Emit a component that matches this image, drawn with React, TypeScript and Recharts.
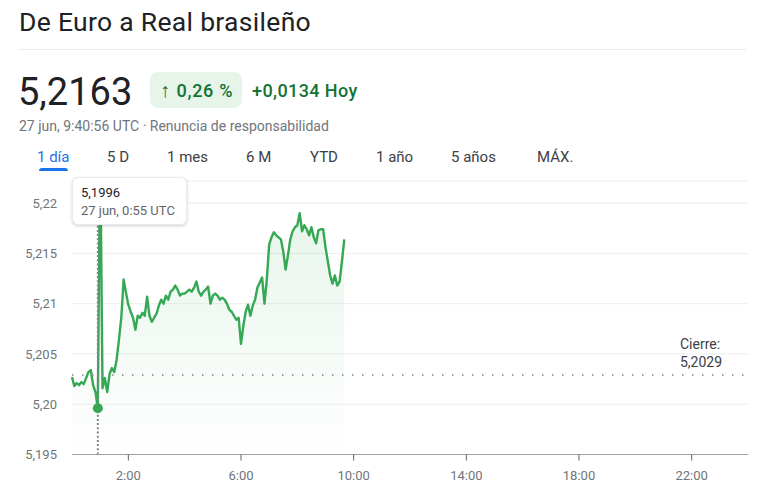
import {
  ComposedChart,
  Area,
  XAxis,
  YAxis,
  CartesianGrid,
  ReferenceLine,
  ReferenceDot,
} from "recharts";

// EUR/BRL, 27 jun, 5-minute samples from 0:00 UTC to 9:40 UTC
const rates = [
  5.2027, 5.2018, 5.2021, 5.2019, 5.2022, 5.202, 5.2026, 5.2032, 5.2034, 5.2019,
  5.2012, 5.1996, 5.226, 5.2016, 5.2026, 5.2012, 5.203, 5.2036, 5.2032, 5.2044,
  5.2064, 5.2086, 5.2124, 5.2111, 5.2099, 5.2092, 5.2086, 5.2074, 5.2088, 5.2086,
  5.2091, 5.2088, 5.2107, 5.2088, 5.2082, 5.2086, 5.209, 5.2098, 5.2104, 5.21,
  5.2108, 5.2104, 5.2112, 5.2114, 5.2118, 5.2114, 5.2108, 5.211, 5.211, 5.2112,
  5.2114, 5.2112, 5.2116, 5.2122, 5.2112, 5.2108, 5.2112, 5.2114, 5.2117, 5.21,
  5.2108, 5.211, 5.2108, 5.2104, 5.2106, 5.2104, 5.21, 5.2094, 5.2092, 5.2088,
  5.2084, 5.2086, 5.206, 5.2078, 5.2092, 5.2099, 5.2088, 5.2098, 5.2104, 5.2116,
  5.2121, 5.2126, 5.21, 5.2124, 5.2159, 5.2166, 5.2171, 5.2168, 5.2166, 5.2164,
  5.2152, 5.2134, 5.2148, 5.2164, 5.2172, 5.2176, 5.2178, 5.219, 5.2172, 5.2178,
  5.2174, 5.2168, 5.2176, 5.2166, 5.216, 5.2173, 5.2174, 5.2174, 5.2156, 5.2142,
  5.2128, 5.212, 5.2128, 5.2118, 5.2122, 5.2142, 5.2164,
];

const yTicks = [5.195, 5.2, 5.205, 5.21, 5.215, 5.22];
const yTickLabels = ["5,195", "5,20", "5,205", "5,21", "5,215", "5,22"];
const xTicks = [120, 360, 600, 840, 1080, 1320];
const xTickLabels = ["2:00", "6:00", "10:00", "14:00", "18:00", "22:00"];
const tabs = ["1 día", "5 D", "1 mes", "6 M", "YTD", "1 año", "5 años", "MÁX."];
const tabLeft = [37, 107, 167, 246, 310, 376, 451, 537];

const closeValue = 5.2029;
const hoverIndex = 11;
const hoverLabel = "27 jun, 0:55 UTC";

const data = rates.map((v, i) => ({ t: i * 5, v }));

const GREEN = "#34a853";
const fmt = (n: number) => n.toFixed(4).replace(".", ",");

function CloseLabel(props: any) {
  const { viewBox } = props;
  return (
    <text x={680} y={viewBox.y - 25.7} fill="#3c4043" fontSize={14}>
      <tspan x={680}>Cierre:</tspan>
      <tspan x={680} dy={17.7}>
        {fmt(closeValue)}
      </tspan>
    </text>
  );
}

export default function App() {
  const font = "Roboto, Arial, sans-serif";
  const hover = data[hoverIndex];
  return (
    <div
      style={{
        position: "absolute",
        left: 0,
        top: 0,
        width: 773,
        height: 499,
        background: "#fff",
        fontFamily: font,
        overflow: "hidden",
      }}
    >
      <div
        style={{
          position: "absolute",
          left: 19,
          top: 8.6,
          fontSize: 26.5,
          lineHeight: "26.5px",
          letterSpacing: 0.3,
          color: "#202124",
        }}
      >
        De Euro a Real brasileño
      </div>
      <div style={{ position: "absolute", left: 19, top: 49, width: 727, height: 1, background: "#e8eaed" }} />

      <div style={{ position: "absolute", left: 18, top: 73, fontSize: 38, lineHeight: "38px", color: "#202124" }}>
        5,2163
      </div>
      <div
        style={{
          position: "absolute",
          left: 150,
          top: 72,
          width: 92,
          height: 36,
          borderRadius: 8,
          background: "#e6f4ea",
        }}
      />
      <div
        style={{
          position: "absolute",
          left: 160,
          top: 80,
          fontSize: 20,
          lineHeight: "20px",
          color: "#137333",
        }}
      >
        ↑
      </div>
      <div
        style={{
          position: "absolute",
          left: 176.5,
          top: 81.6,
          fontSize: 18,
          lineHeight: "18px",
          letterSpacing: 0.7,
          color: "#137333",
          fontWeight: 500,
        }}
      >
        0,26 %
      </div>
      <div
        style={{
          position: "absolute",
          left: 252,
          top: 81.6,
          fontSize: 18,
          lineHeight: "18px",
          letterSpacing: 0.4,
          color: "#137333",
          fontWeight: 500,
        }}
      >
        +0,0134 Hoy
      </div>
      <div style={{ position: "absolute", left: 19, top: 119, fontSize: 14, lineHeight: "14px", color: "#70757a" }}>
        27 jun, 9:40:56 UTC · Renuncia de responsabilidad
      </div>

      {tabs.map((tab, i) => (
        <div
          key={tab}
          style={{
            position: "absolute",
            left: tabLeft[i],
            top: 149.7,
            fontSize: 15,
            lineHeight: "15px",
            color: i === 0 ? "#1a73e8" : "#3c4043",
          }}
        >
          {tab}
        </div>
      ))}
      <div
        style={{
          position: "absolute",
          left: 39,
          top: 167.5,
          width: 29,
          height: 3,
          borderRadius: "3px 3px 0 0",
          background: "#1a73e8",
        }}
      />

      <div style={{ position: "absolute", left: 0, top: 0 }}>
        <ComposedChart
          width={773}
          height={499}
          data={data}
          margin={{ top: 181, right: 25, bottom: 14.5, left: 0 }}
        >
          <defs>
            <linearGradient id="fillGreen" gradientUnits="userSpaceOnUse" x1="0" y1="181" x2="0" y2="454">
              <stop offset="0%" stopColor={GREEN} stopOpacity={0.22} />
              <stop offset="100%" stopColor={GREEN} stopOpacity={0} />
            </linearGradient>
          </defs>
          <CartesianGrid vertical={false} stroke="#eeeeee" />
          <XAxis
            dataKey="t"
            type="number"
            domain={[0, 1440]}
            ticks={xTicks}
            tickFormatter={(v) => xTickLabels[xTicks.indexOf(v)]}
            height={30}
            tickSize={6}
            tickMargin={10}
            axisLine={{ stroke: "#9aa0a6" }}
            tickLine={{ stroke: "#5f6368" }}
            tick={{ fontSize: 13, fill: "#70757a", fontFamily: font }}
          />
          <YAxis
            type="number"
            domain={[5.195, 5.2222]}
            allowDataOverflow
            ticks={yTicks}
            tickFormatter={(v) => {
              const k = yTicks.findIndex((y) => Math.abs(y - v) < 1e-6);
              return k >= 0 ? yTickLabels[k] : "";
            }}
            width={72}
            axisLine={false}
            tickLine={false}
            tickMargin={9}
            tick={{ fontSize: 13, fill: "#70757a", fontFamily: font }}
          />
          <ReferenceLine
            y={closeValue}
            stroke="#80868b"
            strokeWidth={1.5}
            strokeDasharray="1.5 8.5"
            label={<CloseLabel />}
          />
          <ReferenceLine x={hover.t} stroke="#80868b" strokeWidth={2} strokeDasharray="2 2.2" />
          <Area
            type="linear"
            dataKey="v"
            stroke={GREEN}
            strokeWidth={2.4}
            strokeLinejoin="round"
            fill="url(#fillGreen)"
            dot={false}
            activeDot={false}
            isAnimationActive={false}
          />
          <ReferenceDot x={hover.t} y={hover.v} r={5} fill={GREEN} stroke="none" />
        </ComposedChart>
      </div>

      <div
        style={{
          position: "absolute",
          left: 72,
          top: 176.5,
          width: 115,
          height: 48,
          boxSizing: "border-box",
          background: "#fff",
          borderRadius: 6,
          border: "1px solid #e8eaed",
          boxShadow: "0 1px 3px rgba(60,64,67,0.25)",
        }}
      />
      <div style={{ position: "absolute", left: 81, top: 185.8, fontSize: 13, lineHeight: "13px", color: "#202124" }}>
        {fmt(hover.v)}
      </div>
      <div style={{ position: "absolute", left: 81, top: 204, fontSize: 13, lineHeight: "13px", color: "#5f6368" }}>
        {hoverLabel}
      </div>
    </div>
  );
}
